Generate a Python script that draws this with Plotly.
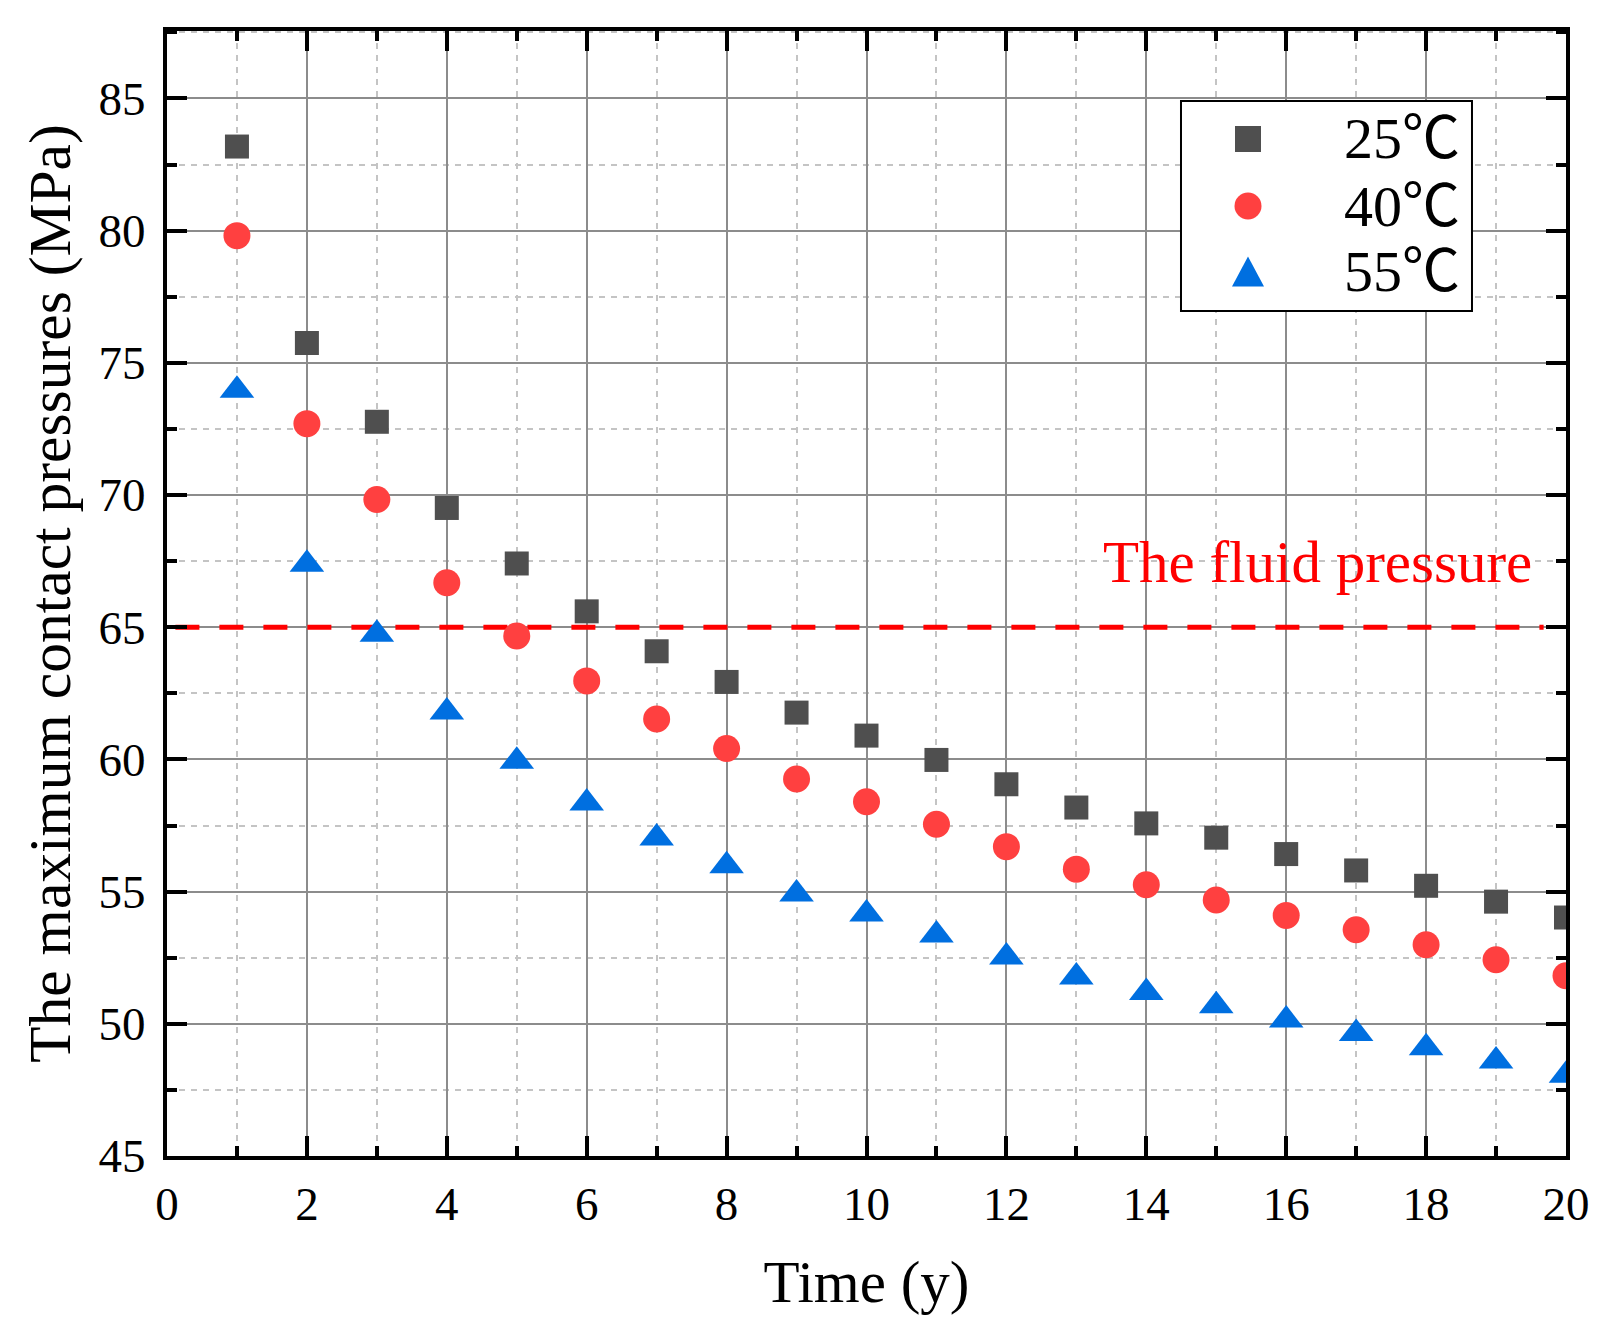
import plotly.graph_objects as go

time_years = list(range(1, 21))
p_25C = [83.18, 75.75, 72.77, 69.51, 67.41, 65.60, 64.09, 62.93, 61.77, 60.90,
         59.98, 59.06, 58.18, 57.58, 57.04, 56.42, 55.80, 55.22, 54.62, 54.02]
p_40C = [79.81, 72.70, 69.83, 66.68, 64.67, 62.97, 61.53, 60.41, 59.26, 58.40,
         57.55, 56.70, 55.85, 55.26, 54.68, 54.10, 53.56, 52.99, 52.42, 51.82]
p_55C = [73.96, 67.38, 64.73, 61.79, 59.93, 58.35, 57.03, 55.98, 54.91, 54.15,
         53.36, 52.53, 51.77, 51.18, 50.68, 50.14, 49.63, 49.09, 48.59, 48.05]
series_names = ["25℃", "40℃", "55℃"]
fluid_pressure = 65
fluid_label = "The fluid pressure"
x_title = "Time (y)"
y_title = "The maximum contact pressures (MPa)"

SERIF = "Liberation Serif, Times New Roman, serif"
LEGEND_FONT = "Liberation Serif, Noto Sans CJK SC, serif"

colors = ["#4f4f4f", "#ff4040", "#006fe0"]
symbols = ["square", "circle", "triangle-up"]
sizes = [24, 27, 30]

fig = go.Figure()
for name, vals, sym, sz, col in zip(series_names, [p_25C, p_40C, p_55C], symbols, sizes, colors):
    fig.add_trace(go.Scatter(
        x=time_years, y=vals, mode="markers", name=name, showlegend=False,
        marker=dict(symbol=sym, size=sz, color=col, line=dict(width=0)),
        cliponaxis=True,
    ))

# fluid pressure reference line and label
fig.add_shape(type="line", xref="x", yref="y", x0=0.12, x1=19.68,
              y0=fluid_pressure, y1=fluid_pressure, layer="between",
              line=dict(color="#ff0000", width=5, dash="24px,20px"))
fig.add_annotation(x=16.45, y=66.15, xref="x", yref="y", text=fluid_label,
                   showarrow=False, xanchor="center", yanchor="bottom",
                   font=dict(family=SERIF, size=59, color="#ff0000"))

# legend box (drawn as layout items so the keys keep the plot's marker size)
LEG_X0, LEG_X1, LEG_Y0, LEG_Y1 = 0.7248, 0.9328, 0.7511, 0.9378
KEY_X, TEXT_X = 0.7727, 0.8399
ROW_Y = [0.9040, 0.8444, 0.7862]
fig.add_shape(type="rect", xref="paper", yref="paper", x0=LEG_X0, x1=LEG_X1,
              y0=LEG_Y0, y1=LEG_Y1, fillcolor="white",
              line=dict(color="black", width=2), layer="above")
key_shapes = [
    dict(type="rect", x0=-13, x1=13, y0=-13, y1=13),
    dict(type="circle", x0=-13.5, x1=13.5, y0=-13.5, y1=13.5),
    dict(type="path", path="M-16,-15 L16,-15 L0,15 Z"),
]
for ks, col, ry, name in zip(key_shapes, colors, ROW_Y, series_names):
    fig.add_shape(**ks, xref="paper", yref="paper", xsizemode="pixel",
                  ysizemode="pixel", xanchor=KEY_X, yanchor=ry,
                  fillcolor=col, line=dict(width=0), layer="above")
    fig.add_annotation(x=TEXT_X, y=ry, xref="paper", yref="paper", text=name,
                       showarrow=False, xanchor="left", yanchor="middle",
                       font=dict(family=LEGEND_FONT, size=58, color="black"))

axis_common = dict(
    showline=True, linecolor="black", linewidth=4, mirror="ticks",
    ticks="inside", ticklen=20, tickwidth=4, tickcolor="black",
    showgrid=True, gridcolor="#8c8c8c", gridwidth=2,
    zeroline=False,
    tickfont=dict(family=SERIF, size=47, color="black"),
)

fig.update_xaxes(
    **axis_common, range=[0, 20], tick0=0, dtick=2, ticklabelstandoff=4,
    minor=dict(dtick=1, ticks="inside", ticklen=10, tickwidth=4, tickcolor="black",
               showgrid=True, gridcolor="#c4c4c4", gridwidth=2, griddash="6px,6px"),
    title=dict(text=x_title, font=dict(family=SERIF, size=59, color="black"), standoff=32),
)
fig.update_yaxes(
    **axis_common, range=[45, 87.55], tick0=45, dtick=5, ticklabelstandoff=8,
    minor=dict(dtick=2.5, ticks="inside", ticklen=10, tickwidth=4, tickcolor="black",
               showgrid=True, gridcolor="#c4c4c4", gridwidth=2, griddash="6px,6px"),
    title=dict(text=y_title, font=dict(family=SERIF, size=59.5, color="black"), standoff=10),
)

# page body has an 8px margin: figure is sized/offset so the plot area lands in place
fig.update_layout(
    width=1599, height=1324,
    margin=dict(l=159, r=41, t=23, b=176),
    paper_bgcolor="white", plot_bgcolor="white",
    showlegend=False,
)

fig.write_html("out.html")
